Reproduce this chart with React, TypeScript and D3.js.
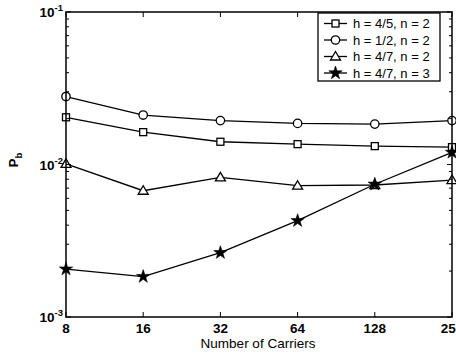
import React from "react";
import * as d3 from "d3";

const carriers = [8, 16, 32, 64, 128, 256];
const xTickLabels = ["8", "16", "32", "64", "128", "256"];
const seriesSquare = [0.0204, 0.0163, 0.0141, 0.0136, 0.0132, 0.013];
const seriesCircle = [0.0279, 0.0211, 0.0194, 0.0186, 0.0184, 0.0194];
const seriesTriangle = [0.0101, 0.00673, 0.00824, 0.00726, 0.00734, 0.00791];
const seriesStar = [0.00206, 0.00184, 0.00264, 0.00428, 0.00742, 0.012];
const legendLabels = ["h = 4/5, n = 2", "h = 1/2, n = 2", "h = 4/7, n = 2", "h = 4/7, n = 3"];
const yDecades = [-3, -2, -1];

const W = 456, H = 354;
const L = 66, R = 452, T = 12, B = 317;

function Marker({ type, x, y }: { type: string; x: number; y: number }) {
  const sw = 1.3;
  if (type === "square")
    return <rect x={x - 3.5} y={y - 3.5} width={7} height={7} fill="white" stroke="black" strokeWidth={sw} />;
  if (type === "circle")
    return <circle cx={x} cy={y} r={4.2} fill="white" stroke="black" strokeWidth={sw} />;
  if (type === "triangle")
    return <path d={`M${x},${y - 5}L${x + 5},${y + 3.5}L${x - 5},${y + 3.5}Z`} fill="white" stroke="black" strokeWidth={sw} />;
  const star = d3.symbol(d3.symbolStar, 55)();
  return <path d={star || ""} transform={`translate(${x},${y})`} fill="black" stroke="black" strokeWidth={0.6} />;
}

export default function App() {
  const x = d3.scaleLog().base(2).domain([8, 256]).range([L, R]);
  const y = d3.scaleLog().domain([1e-3, 1e-1]).range([B, T]);
  const line = d3.line<number>().x((_, i) => x(carriers[i])).y((d) => y(d));
  const series = [
    { type: "square", data: seriesSquare },
    { type: "circle", data: seriesCircle },
    { type: "triangle", data: seriesTriangle },
    { type: "star", data: seriesStar },
  ];
  const minor: number[] = [];
  for (let d = -3; d < -1; d++) for (let k = 2; k <= 9; k++) minor.push(k * Math.pow(10, d));
  const font = "'Liberation Sans', Arial, sans-serif";
  return (
    <svg width={W} height={H} style={{ position: "absolute", left: 0, top: 0 }} fontFamily={font}>
      <rect x={0} y={0} width={W} height={H} fill="white" />
      {series.map((s) => (
        <g key={s.type}>
          <path d={line(s.data) || ""} fill="none" stroke="black" strokeWidth={1.3} />
          {s.data.map((v, i) => (
            <Marker key={i} type={s.type} x={x(carriers[i])} y={y(v)} />
          ))}
        </g>
      ))}
      <rect x={L} y={T} width={R - L} height={B - T} fill="none" stroke="black" strokeWidth={1.5} />
      {carriers.map((c, i) => (
        <g key={c}>
          <line x1={x(c)} x2={x(c)} y1={B} y2={B - 5} stroke="black" />
          <line x1={x(c)} x2={x(c)} y1={T} y2={T + 5} stroke="black" />
          <text x={x(c)} y={B + 16} textAnchor="middle" fontSize={13.5} fontWeight="bold">{xTickLabels[i]}</text>
        </g>
      ))}
      {minor.map((m) => (
        <g key={m}>
          <line x1={L} x2={L + 3} y1={y(m)} y2={y(m)} stroke="black" />
          <line x1={R} x2={R - 3} y1={y(m)} y2={y(m)} stroke="black" />
        </g>
      ))}
      {yDecades.map((d) => (
        <g key={d}>
          <line x1={L} x2={L + 5} y1={y(Math.pow(10, d))} y2={y(Math.pow(10, d))} stroke="black" />
          <line x1={R} x2={R - 5} y1={y(Math.pow(10, d))} y2={y(Math.pow(10, d))} stroke="black" />
          <text x={L - 3} y={y(Math.pow(10, d)) + 5} textAnchor="end" fontSize={13.5} fontWeight="bold">
            10<tspan dy={-6} fontSize={9.5}>{d}</tspan>
          </text>
        </g>
      ))}
      <text x={258} y={348} textAnchor="middle" fontSize={13.5}>Number of Carriers</text>
      <text transform={`translate(18,160) rotate(-90)`} textAnchor="middle" fontSize={13} fontWeight="bold">
        P<tspan dy={4} fontSize={9.5}>b</tspan>
      </text>
      <rect x={318} y={13} width={122} height={68} fill="white" stroke="black" strokeWidth={1.3} />
      {series.map((s, i) => {
        const ly = 23.5 + i * 16.5;
        return (
          <g key={s.type}>
            <line x1={324} x2={347} y1={ly} y2={ly} stroke="black" strokeWidth={1.3} />
            <Marker type={s.type} x={335.5} y={ly} />
            <text x={353} y={ly + 4.8} fontSize={13}>{legendLabels[i]}</text>
          </g>
        );
      })}
    </svg>
  );
}
